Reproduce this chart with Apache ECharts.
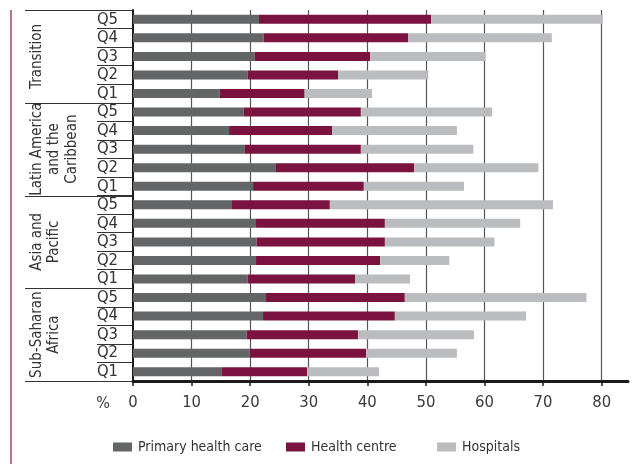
<!DOCTYPE html>
<html>
<head>
<meta charset="utf-8">
<script src="https://cdn.jsdelivr.net/npm/echarts@6/dist/echarts.min.js"></script>
<style>html,body{margin:0;padding:0;background:#fff}#c{width:636px;height:464px}</style>
</head>
<body>
<div id="c"></div>
<script>
// Regions (top to bottom) and quintiles within each region (top to bottom)
const regions = ['Transition', 'Latin America\nand the\nCaribbean', 'Asia and\nPacific', 'Sub-Saharan\nAfrica'];
const quintiles = ['Q5', 'Q4', 'Q3', 'Q2', 'Q1'];
// Segment values (%), listed top to bottom
const primaryHealthCare = [21.5, 22.3, 20.8, 19.6, 14.8,  18.9, 16.4, 19.1, 24.4, 20.5,  16.9, 21.0, 21.1, 21.0, 19.6,  22.7, 22.2, 19.4, 19.9, 15.2];
const healthCentre      = [29.4, 24.7, 19.7, 15.4, 14.5,  20.0, 17.6, 19.8, 23.6, 18.9,  16.7, 22.0, 21.9, 21.2, 18.3,  23.7, 22.5, 19.0, 19.9, 14.5];
const hospitals         = [29.3, 24.5, 19.7, 15.4, 11.5,  22.4, 21.3, 19.2, 21.2, 17.1,  38.1, 23.1, 18.7, 11.8,  9.4,  31.0, 22.4, 19.8, 15.5, 12.3];
const xTicks = [0, 10, 20, 30, 40, 50, 60, 70, 80];
const seriesNames = ['Primary health care', 'Health centre', 'Hospitals'];

const FONT = "'Liberation Sans Narrow', 'DejaVu Sans Condensed', 'Arial Narrow', sans-serif";
const categories = [];
regions.forEach((r, ri) => quintiles.forEach(q => categories.push(ri + '|' + q)));

const chart = echarts.init(document.getElementById('c'), null, {renderer: 'canvas'});
const colors = ['#646567', '#7a1340', '#bbbcbf'];

const option = {
  animation: false,
  backgroundColor: '#fff',
  grid: {left: 133, right: 8, top: 10, bottom: 83, containLabel: false, outerBoundsMode: 'none'},
  xAxis: {
    type: 'value', min: 0, max: 84.5, interval: 10,
    axisLine: {show: true, lineStyle: {color: '#1a1a1a', width: 3}},
    axisTick: {show: true, length: 5, lineStyle: {color: '#1a1a1a', width: 1.5}, customValues: xTicks},
    axisLabel: {show: true, margin: 13, fontSize: 16.5, color: '#3a3a3a', fontFamily: FONT, customValues: xTicks},
    splitLine: {show: true, showMinLine: false, lineStyle: {color: '#555', width: 1.2}}
  },
  yAxis: {
    type: 'category', inverse: true, data: categories,
    axisLine: {show: true, lineStyle: {color: '#1a1a1a', width: 2}},
    axisTick: {show: true, length: 36, lineStyle: {color: '#333', width: 1}},
    axisLabel: {interval: 0, margin: 15, fontSize: 16.5, color: '#333', fontFamily: FONT,
      formatter: v => v.split('|')[1]},
    splitLine: {show: false}
  },
  legend: seriesNames.map((n, i) => ({
    data: [n], left: [108, 281, 432][i], top: 435, itemWidth: 19, itemHeight: 9, itemGap: 0,
    icon: 'rect', selectedMode: false,
    textStyle: {fontSize: 14, color: '#333', fontFamily: FONT, padding: [0, 0, 0, 1]}
  })),
  series: [primaryHealthCare, healthCentre, hospitals].map((d, i) => ({
    name: seriesNames[i], type: 'bar', stack: 'total', data: d, barWidth: 9,
    itemStyle: {color: colors[i]}
  }))
};
chart.setOption(option);

// Decorations positioned from the chart's own scales
const bandC0 = chart.convertToPixel({yAxisIndex: 0}, 0);
const bandC1 = chart.convertToPixel({yAxisIndex: 0}, 1);
const bw = bandC1 - bandC0;
const x0 = chart.convertToPixel({xAxisIndex: 0}, 0);
const plotTop = bandC0 - bw / 2;
const plotBottom = plotTop + bw * categories.length;
const graphics = [];
// mauve side rule
graphics.push({type: 'line', shape: {x1: 11, y1: plotTop, x2: 11, y2: 464}, style: {stroke: '#b27592', lineWidth: 2}, silent: true});
// group separators
for (let g = 0; g <= regions.length; g++) {
  const y = Math.round(plotTop + g * quintiles.length * bw) + 0.5;
  graphics.push({type: 'line', shape: {x1: 25, y1: y, x2: x0, y2: y}, style: {stroke: '#333', lineWidth: 1}, silent: true});
}
// region labels
regions.forEach((r, g) => {
  const cy = plotTop + (g + 0.5) * quintiles.length * bw;
  graphics.push({type: 'text', x: 28, y: cy, rotation: Math.PI / 2, silent: true,
    style: {text: r, fontSize: 15, fontFamily: FONT, fill: '#333', align: 'center', verticalAlign: 'top', lineHeight: 17.5}});
});
// percent sign
graphics.push({type: 'text', x: 103, y: plotBottom + 23, silent: true,
  style: {text: '%', fontSize: 16, fontFamily: FONT, fill: '#3a3a3a', align: 'center', verticalAlign: 'middle'}});
chart.setOption({graphic: graphics});
</script>
</body>
</html>
